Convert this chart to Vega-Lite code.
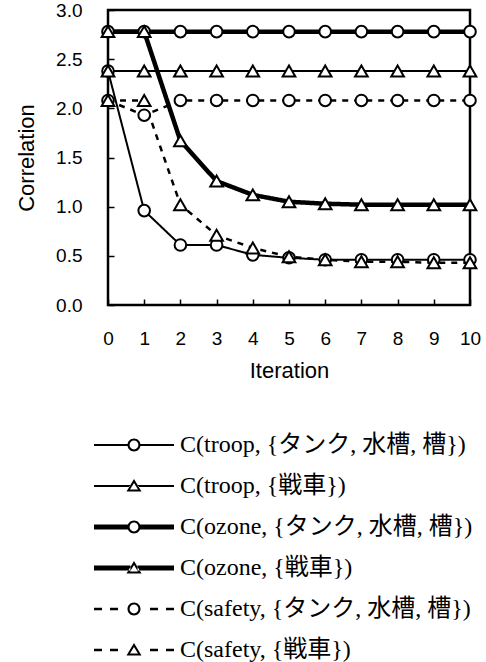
{
  "$schema": "https://vega.github.io/schema/vega-lite/v6.json",
  "width": 362,
  "height": 295,
  "autosize": {"type": "none"},
  "padding": {"left": 108, "top": 10, "right": 16, "bottom": 357},
  "background": "white",
  "config": {
    "view": {"stroke": "black", "strokeWidth": 2.5},
    "axis": {
      "grid": false,
      "domain": false,
      "tickColor": "black",
      "tickSize": -6,
      "tickWidth": 1.5,
      "labelColor": "black",
      "titleColor": "black",
      "labelFont": "Liberation Sans",
      "titleFont": "Liberation Sans",
      "labelFontSize": 19,
      "titleFontSize": 22,
      "titleFontWeight": "normal",
      "labelFlush": false,
      "labelOverlap": false
    },
    "axisX": {"labelOverlap": false, "tickCount": 11}
  },
  "datasets": {
    "main": [
      {"series": "C(troop, {タンク, 水槽, 槽})", "iteration": 0, "correlation": 2.38},
      {"series": "C(troop, {タンク, 水槽, 槽})", "iteration": 1, "correlation": 0.96},
      {"series": "C(troop, {タンク, 水槽, 槽})", "iteration": 2, "correlation": 0.61},
      {"series": "C(troop, {タンク, 水槽, 槽})", "iteration": 3, "correlation": 0.61},
      {"series": "C(troop, {タンク, 水槽, 槽})", "iteration": 4, "correlation": 0.51},
      {"series": "C(troop, {タンク, 水槽, 槽})", "iteration": 5, "correlation": 0.48},
      {"series": "C(troop, {タンク, 水槽, 槽})", "iteration": 6, "correlation": 0.46},
      {"series": "C(troop, {タンク, 水槽, 槽})", "iteration": 7, "correlation": 0.46},
      {"series": "C(troop, {タンク, 水槽, 槽})", "iteration": 8, "correlation": 0.46},
      {"series": "C(troop, {タンク, 水槽, 槽})", "iteration": 9, "correlation": 0.46},
      {"series": "C(troop, {タンク, 水槽, 槽})", "iteration": 10, "correlation": 0.46},
      {"series": "C(troop, {戦車})", "iteration": 0, "correlation": 2.38},
      {"series": "C(troop, {戦車})", "iteration": 1, "correlation": 2.38},
      {"series": "C(troop, {戦車})", "iteration": 2, "correlation": 2.38},
      {"series": "C(troop, {戦車})", "iteration": 3, "correlation": 2.38},
      {"series": "C(troop, {戦車})", "iteration": 4, "correlation": 2.38},
      {"series": "C(troop, {戦車})", "iteration": 5, "correlation": 2.38},
      {"series": "C(troop, {戦車})", "iteration": 6, "correlation": 2.38},
      {"series": "C(troop, {戦車})", "iteration": 7, "correlation": 2.38},
      {"series": "C(troop, {戦車})", "iteration": 8, "correlation": 2.38},
      {"series": "C(troop, {戦車})", "iteration": 9, "correlation": 2.38},
      {"series": "C(troop, {戦車})", "iteration": 10, "correlation": 2.38},
      {"series": "C(ozone, {タンク, 水槽, 槽})", "iteration": 0, "correlation": 2.78},
      {"series": "C(ozone, {タンク, 水槽, 槽})", "iteration": 1, "correlation": 2.78},
      {"series": "C(ozone, {タンク, 水槽, 槽})", "iteration": 2, "correlation": 2.78},
      {"series": "C(ozone, {タンク, 水槽, 槽})", "iteration": 3, "correlation": 2.78},
      {"series": "C(ozone, {タンク, 水槽, 槽})", "iteration": 4, "correlation": 2.78},
      {"series": "C(ozone, {タンク, 水槽, 槽})", "iteration": 5, "correlation": 2.78},
      {"series": "C(ozone, {タンク, 水槽, 槽})", "iteration": 6, "correlation": 2.78},
      {"series": "C(ozone, {タンク, 水槽, 槽})", "iteration": 7, "correlation": 2.78},
      {"series": "C(ozone, {タンク, 水槽, 槽})", "iteration": 8, "correlation": 2.78},
      {"series": "C(ozone, {タンク, 水槽, 槽})", "iteration": 9, "correlation": 2.78},
      {"series": "C(ozone, {タンク, 水槽, 槽})", "iteration": 10, "correlation": 2.78},
      {"series": "C(ozone, {戦車})", "iteration": 0, "correlation": 2.78},
      {"series": "C(ozone, {戦車})", "iteration": 1, "correlation": 2.78},
      {"series": "C(ozone, {戦車})", "iteration": 2, "correlation": 1.67},
      {"series": "C(ozone, {戦車})", "iteration": 3, "correlation": 1.26},
      {"series": "C(ozone, {戦車})", "iteration": 4, "correlation": 1.12},
      {"series": "C(ozone, {戦車})", "iteration": 5, "correlation": 1.05},
      {"series": "C(ozone, {戦車})", "iteration": 6, "correlation": 1.03},
      {"series": "C(ozone, {戦車})", "iteration": 7, "correlation": 1.02},
      {"series": "C(ozone, {戦車})", "iteration": 8, "correlation": 1.02},
      {"series": "C(ozone, {戦車})", "iteration": 9, "correlation": 1.02},
      {"series": "C(ozone, {戦車})", "iteration": 10, "correlation": 1.02},
      {"series": "C(safety, {タンク, 水槽, 槽})", "iteration": 0, "correlation": 2.08},
      {"series": "C(safety, {タンク, 水槽, 槽})", "iteration": 1, "correlation": 1.93},
      {"series": "C(safety, {タンク, 水槽, 槽})", "iteration": 2, "correlation": 2.08},
      {"series": "C(safety, {タンク, 水槽, 槽})", "iteration": 3, "correlation": 2.08},
      {"series": "C(safety, {タンク, 水槽, 槽})", "iteration": 4, "correlation": 2.08},
      {"series": "C(safety, {タンク, 水槽, 槽})", "iteration": 5, "correlation": 2.08},
      {"series": "C(safety, {タンク, 水槽, 槽})", "iteration": 6, "correlation": 2.08},
      {"series": "C(safety, {タンク, 水槽, 槽})", "iteration": 7, "correlation": 2.08},
      {"series": "C(safety, {タンク, 水槽, 槽})", "iteration": 8, "correlation": 2.08},
      {"series": "C(safety, {タンク, 水槽, 槽})", "iteration": 9, "correlation": 2.08},
      {"series": "C(safety, {タンク, 水槽, 槽})", "iteration": 10, "correlation": 2.08},
      {"series": "C(safety, {戦車})", "iteration": 0, "correlation": 2.08},
      {"series": "C(safety, {戦車})", "iteration": 1, "correlation": 2.08},
      {"series": "C(safety, {戦車})", "iteration": 2, "correlation": 1.02},
      {"series": "C(safety, {戦車})", "iteration": 3, "correlation": 0.71},
      {"series": "C(safety, {戦車})", "iteration": 4, "correlation": 0.58},
      {"series": "C(safety, {戦車})", "iteration": 5, "correlation": 0.49},
      {"series": "C(safety, {戦車})", "iteration": 6, "correlation": 0.46},
      {"series": "C(safety, {戦車})", "iteration": 7, "correlation": 0.44},
      {"series": "C(safety, {戦車})", "iteration": 8, "correlation": 0.44},
      {"series": "C(safety, {戦車})", "iteration": 9, "correlation": 0.43},
      {"series": "C(safety, {戦車})", "iteration": 10, "correlation": 0.43}
    ]
  },
  "data": {"name": "main"},
  "encoding": {
    "x": {
      "field": "iteration", "type": "quantitative",
      "scale": {"domain": [0, 10], "nice": false, "zero": false},
      "axis": {
        "values": [0, 1, 2, 3, 4, 5, 6, 7, 8, 9, 10],
        "labelExpr": "format(datum.value, 'd')",
        "labelOverlap": false, "labelBound": false, "labelFlush": false, "labelSeparation": 0,
        "title": "Iteration", "labelPadding": 30,
        "titleX": 181, "titleY": 72, "titleBaseline": "alphabetic"
      }
    },
    "y": {
      "field": "correlation", "type": "quantitative",
      "scale": {"domain": [0, 3], "nice": false, "zero": false},
      "axis": {
        "values": [0, 0.5, 1, 1.5, 2, 2.5, 3], "format": ".1f",
        "labelOverlap": false, "labelBound": false, "labelFlush": false,
        "title": "Correlation", "labelPadding": 32,
        "titleX": -75, "titleY": 147.5, "titleBaseline": "alphabetic", "titleAngle": -90
      }
    }
  },
  "layer": [
    {
      "mark": {"type": "line", "color": "black", "opacity": 1},
      "encoding": {
        "detail": {"field": "series", "type": "nominal"},
        "strokeWidth": {
          "field": "series", "type": "nominal", "legend": null,
          "scale": {
            "type": "ordinal",
            "domain": ["C(troop, {タンク, 水槽, 槽})", "C(troop, {戦車})", "C(ozone, {タンク, 水槽, 槽})", "C(ozone, {戦車})", "C(safety, {タンク, 水槽, 槽})", "C(safety, {戦車})"],
            "range": [2, 2, 4.5, 4.5, 2.5, 2.5]
          }
        },
        "strokeDash": {
          "field": "series", "type": "nominal", "legend": null,
          "scale": {
            "type": "ordinal",
            "domain": ["C(troop, {タンク, 水槽, 槽})", "C(troop, {戦車})", "C(ozone, {タンク, 水槽, 槽})", "C(ozone, {戦車})", "C(safety, {タンク, 水槽, 槽})", "C(safety, {戦車})"],
            "range": [[1, 0], [1, 0], [1, 0], [1, 0], [6, 6], [6, 6]]
          }
        }
      }
    },
    {
      "mark": {"type": "point", "filled": true, "fill": "white", "stroke": "black", "strokeWidth": 2, "opacity": 1},
      "encoding": {
        "shape": {
          "field": "series", "type": "nominal", "legend": null,
          "scale": {
            "domain": ["C(troop, {タンク, 水槽, 槽})", "C(troop, {戦車})", "C(ozone, {タンク, 水槽, 槽})", "C(ozone, {戦車})", "C(safety, {タンク, 水槽, 槽})", "C(safety, {戦車})"],
            "range": ["circle", "triangle-up", "circle", "triangle-up", "circle", "triangle-up"]
          }
        },
        "size": {
          "field": "series", "type": "nominal", "legend": null,
          "scale": {
            "type": "ordinal",
            "domain": ["C(troop, {タンク, 水槽, 槽})", "C(troop, {戦車})", "C(ozone, {タンク, 水槽, 槽})", "C(ozone, {戦車})", "C(safety, {タンク, 水槽, 槽})", "C(safety, {戦車})"],
            "range": [135, 160, 135, 160, 135, 160]
          }
        }
      }
    },
    {
      "transform": [{"filter": "false"}],
      "mark": {"type": "point", "filled": true, "color": "black", "strokeWidth": 0, "size": 400, "opacity": 1},
      "encoding": {
        "shape": {
          "field": "series", "type": "nominal",
          "scale": {
            "domain": ["C(troop, {タンク, 水槽, 槽})", "C(troop, {戦車})", "C(ozone, {タンク, 水槽, 槽})", "C(ozone, {戦車})", "C(safety, {タンク, 水槽, 槽})", "C(safety, {戦車})"],
            "range": [
              "M-4,-0.11H-0.5V0.11H-4Z M0.5,-0.11H4V0.11H0.5Z M-0.65,0A0.65 0.65 0 1 1 0.65,0A0.65 0.65 0 1 1 -0.65,0Z M-0.44,0A0.44 0.44 0 1 0 0.44,0A0.44 0.44 0 1 0 -0.44,0Z",
              "M-4,-0.11H-0.4V0.11H-4Z M0.4,-0.11H4V0.11H0.4Z M-0.75,0.55L0.75,0.55L0,-0.7Z M-0.397,0.35L0,-0.312L0.397,0.35Z",
              "M-4,-0.24H-0.5V0.24H-4Z M0.5,-0.24H4V0.24H0.5Z M-0.65,0A0.65 0.65 0 1 1 0.65,0A0.65 0.65 0 1 1 -0.65,0Z M-0.44,0A0.44 0.44 0 1 0 0.44,0A0.44 0.44 0 1 0 -0.44,0Z",
              "M-4,-0.24H-0.36V0.24H-4Z M0.36,-0.24H4V0.24H0.36Z M-0.75,0.55L0.75,0.55L0,-0.7Z M-0.397,0.35L0,-0.312L0.397,0.35Z",
              "M-4,-0.125H-3.2V0.125H-4Z M-2.4,-0.125H-1.6V0.125H-2.4Z M1.6,-0.125H2.4V0.125H1.6Z M3.2,-0.125H4V0.125H3.2Z M-0.65,0A0.65 0.65 0 1 1 0.65,0A0.65 0.65 0 1 1 -0.65,0Z M-0.44,0A0.44 0.44 0 1 0 0.44,0A0.44 0.44 0 1 0 -0.44,0Z",
              "M-4,-0.125H-3.2V0.125H-4Z M-2.4,-0.125H-1.6V0.125H-2.4Z M1.6,-0.125H2.4V0.125H1.6Z M3.2,-0.125H4V0.125H3.2Z M-0.75,0.55L0.75,0.55L0,-0.7Z M-0.397,0.35L0,-0.312L0.397,0.35Z"
            ]
          },
          "legend": {
            "title": null,
            "orient": "none",
            "legendX": 14,
            "legendY": 423,
            "direction": "vertical",
            "padding": 0,
            "symbolSize": 400,
            "symbolFillColor": "black",
            "symbolStrokeColor": "black",
            "symbolStrokeWidth": 0,
            "symbolOpacity": 1,
            "labelFont": "Liberation Serif, Noto Sans CJK JP",
            "labelFontSize": 24,
            "labelColor": "black",
            "labelLimit": 500,
            "labelOffset": 34,
            "rowPadding": 17
          }
        }
      }
    }
  ],
  "resolve": {"scale": {"shape": "independent"}}
}
